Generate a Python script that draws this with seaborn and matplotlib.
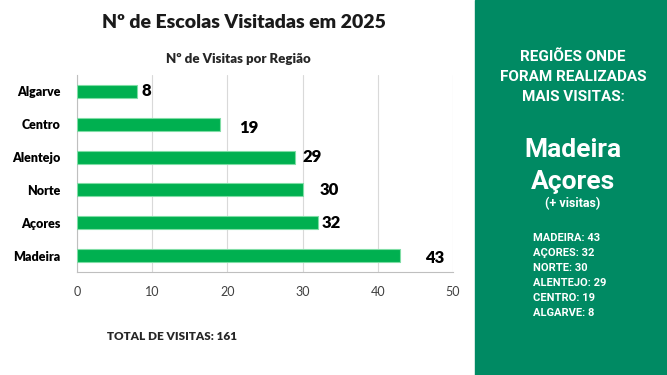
import matplotlib
matplotlib.use("Agg")
import matplotlib.pyplot as plt
import seaborn as sns
import pandas as pd

# Dados
regioes = ["Algarve", "Centro", "Alentejo", "Norte", "Açores", "Madeira"]
visitas = [8, 19, 29, 30, 32, 43]
# deslocamento dos rótulos (como no original)
desloc_x = [0.6, 2.6, 1.0, 2.2, 0.5, 3.3]
desloc_y = [0.0, 0.1, 0.0, 0.0, 0.0, 0.08]

ranking_regioes = ["MADEIRA", "AÇORES", "NORTE", "ALENTEJO", "CENTRO", "ALGARVE"]
ranking_visitas = [43, 32, 30, 29, 19, 8]

df = pd.DataFrame({"Região": regioes, "Visitas": visitas})

sns.set_style("white")
plt.rcParams["font.family"] = ["Lato", "DejaVu Sans"]
fonte_painel = ["Liberation Sans Narrow", "Roboto", "DejaVu Sans"]

fig = plt.figure(figsize=(6.67, 3.75), dpi=100)
fig.patch.set_facecolor("white")

# Painel verde à direita
fig.patches.append(plt.Rectangle((475 / 667, 0), 1 - 475 / 667, 1,
                                 transform=fig.transFigure, color="#008A63", zorder=0))

ax = fig.add_axes([77 / 667, 1 - 272 / 375, 376 / 667, 197 / 375])
sns.barplot(data=df, y="Região", x="Visitas", color="#00B050", saturation=1, width=0.4,
            edgecolor="#7FDDA5", linewidth=0.8, orient="h", ax=ax, zorder=3)

ax.set_xlim(0, 50)
ax.set_xticks(range(0, 51, 10))
ax.set_ylim(5.5, -0.5)
ax.grid(axis="x", color="#D9D9D9", linewidth=0.8, zorder=0)
for s in ["top", "right"]:
    ax.spines[s].set_visible(False)
for s in ["left", "bottom"]:
    ax.spines[s].set_color("#BFBFBF")
ax.set_xlabel("")
ax.set_ylabel("")
ax.tick_params(axis="x", labelsize=9, colors="#404040", length=4, color="#BFBFBF", pad=6)
ax.tick_params(axis="y", labelsize=9, length=0, pad=12)
for t in ax.get_yticklabels():
    t.set_fontweight("heavy")
    t.set_color("black")
# marcas entre categorias no eixo vertical
ax.set_yticks([i + 0.5 for i in range(-1, 6)], minor=True)
ax.tick_params(axis="y", which="minor", length=4, color="#BFBFBF")

for i, v in enumerate(visitas):
    ax.text(v + desloc_x[i], i + desloc_y[i], str(v), va="center", ha="left",
            fontsize=12, fontweight="heavy", color="black", zorder=4)

fig.text(0.365, 1 - 22 / 375, "Nº de Escolas Visitadas em 2025", ha="center", va="center",
         fontsize=14, fontweight="heavy", color="#1A1A1A")
fig.text(0.358, 1 - 59 / 375, "Nº de Visitas por Região", ha="center", va="center",
         fontsize=9.5, fontweight="heavy")
fig.text(107 / 667, 1 - 336 / 375, "TOTAL DE VISITAS: " + str(sum(visitas)),
         ha="left", va="center", fontsize=8.5, fontweight="heavy")

# Texto do painel
cx = 573 / 667
for y, linha in zip([57, 77, 97], ["REGIÕES ONDE", "FORAM REALIZADAS", "MAIS VISITAS:"]):
    fig.text(cx, 1 - y / 375, linha, ha="center", va="center", color="white",
             fontsize=11, fontweight="bold", family=fonte_painel)
fig.text(cx, 1 - 150 / 375, regioes[-1], ha="center", va="center", color="white",
         fontsize=19, fontweight="bold", family=fonte_painel)
fig.text(cx, 1 - 182 / 375, regioes[-2], ha="center", va="center", color="white",
         fontsize=19, fontweight="bold", family=fonte_painel)
fig.text(cx, 1 - 204 / 375, "(+ visitas)", ha="center", va="center", color="white",
         fontsize=9, fontweight="bold", family=fonte_painel)
for k, (r, v) in enumerate(zip(ranking_regioes, ranking_visitas)):
    fig.text(533 / 667, 1 - (238 + 15 * k) / 375, f"{r}: {v}", ha="left", va="center",
             color="white", fontsize=8, fontweight="bold", family=fonte_painel)

fig.savefig("out.png", dpi=100)
